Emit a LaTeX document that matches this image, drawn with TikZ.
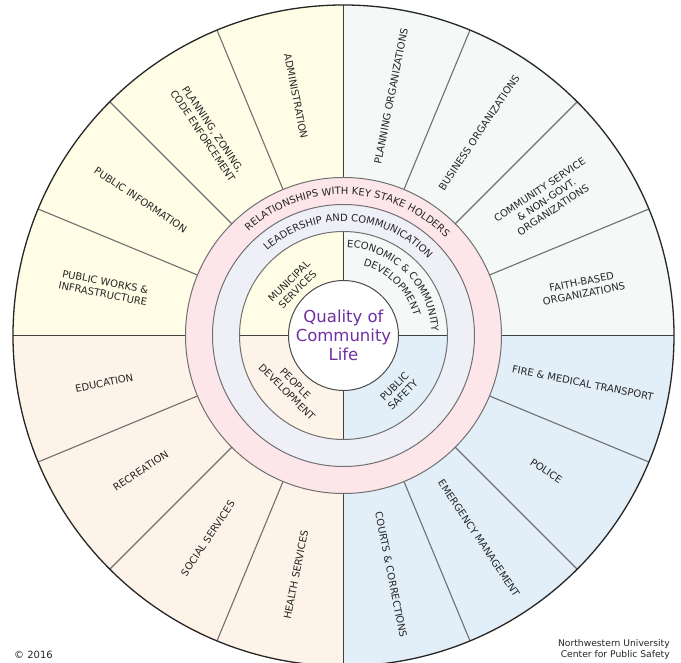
\documentclass[tikz,border=0pt]{standalone}
\usepackage{fontspec}
\setmainfont{DejaVu Sans}
\usepackage{xcolor}
\usepackage{tikz}
\usetikzlibrary{decorations.text}

\definecolor{mscol}{HTML}{FFFDE6}
\definecolor{edcol}{HTML}{F4F8F7}
\definecolor{pscol}{HTML}{E2EEF8}
\definecolor{pdcol}{HTML}{FDF3E8}
\definecolor{stakecol}{HTML}{FDE6E9}
\definecolor{leadcol}{HTML}{EFEFF7}
\definecolor{qclcol}{HTML}{7030A0}
\definecolor{rulecol}{HTML}{707070}

\begin{document}
\begin{tikzpicture}[x=1pt,y=1pt,
        ring/.style={draw=rulecol, line width=1pt},
        spoke/.style={draw=rulecol, line width=1.1pt},
        quad/.style={draw=black!75, line width=1.6pt},
        lbl/.style={font=\fontsize{10}{12}\selectfont, text=black!85, align=center, inner sep=1pt},
        ringtext/.style={decorate, decoration={text along path, text align=center, text color=black!85}}]
        \useasboundingbox (-343.5,-327.5) rectangle (337.5,335.5);
        \clip (-343.5,-327.5) rectangle (337.5,335.5);

        \foreach \a/\c in {0/edcol,90/mscol,180/pdcol,270/pscol}
            \fill[\c] (0,0) -- (\a:330.5) arc[start angle=\a, delta angle=90, radius=330.5] -- cycle;
        \fill[stakecol] (0,0) circle[radius=158];
        \fill[leadcol] (0,0) circle[radius=131];
        \foreach \a/\c in {0/edcol,90/mscol,180/pdcol,270/pscol}
            \fill[\c] (0,0) -- (\a:104) arc[start angle=\a, delta angle=90, radius=104] -- cycle;
        \fill[white] (0,0) circle[radius=55];

        \foreach \a in {22.5,45,67.5,112.5,135,157.5,202.5,225,247.5,292.5,315,337.5}
            \draw[spoke] (\a:158) -- (\a:330.5);
        \foreach \a in {0,90,180,270} {
            \draw[quad] (\a:158) -- (\a:330.5);
            \draw[quad] (\a:55) -- (\a:104);
        }
        \draw[ring] (0,0) circle[radius=158];
        \draw[ring] (0,0) circle[radius=131];
        \draw[ring] (0,0) circle[radius=104];
        \draw[ring, draw=black!70] (0,0) circle[radius=55];
        \draw[black!85, line width=1.3pt] (0,0) circle[radius=330.5];

        \path[ringtext, decoration={text={|\fontsize{10}{12}\selectfont|RELATIONSHIPS WITH KEY STAKE HOLDERS}}]
            (178:141) arc[start angle=178, end angle=-2, radius=141];
        \path[ringtext, decoration={text={|\fontsize{10}{12}\selectfont|LEADERSHIP AND COMMUNICATION}}]
            (177:114) arc[start angle=177, end angle=-3, radius=114];
        \path[ringtext, decoration={text={|\fontsize{10}{12}\selectfont|ECONOMIC {\&} COMMUNITY}}]
            (105:88) arc[start angle=105, end angle=-15, radius=88];
        \path[ringtext, decoration={text={|\fontsize{10}{12}\selectfont|DEVELOPMENT}}]
            (105:73) arc[start angle=105, end angle=-15, radius=73];

        \node[lbl, rotate=45] (muni) at (135:71) {MUNICIPAL\\SERVICES};
        \node[lbl, rotate=-45] (people) at (225:74) {PEOPLE\\DEVELOPMENT};
        \node[lbl, rotate=45] (safety) at (-45:78) {PUBLIC\\SAFETY};
        \node[font=\fontsize{16.5}{19}\selectfont, text=qclcol, align=center] (qcl) at (0,0) {Quality of\\Community\\Life};

        \foreach \a/\t [count=\i] in {11.25/{FAITH-BASED\\ORGANIZATIONS},
                33.75/{COMMUNITY SERVICE\\\& NON-GOVT.\\ORGANIZATIONS},
                56.25/BUSINESS ORGANIZATIONS, 78.75/PLANNING ORGANIZATIONS,
                -11.25/FIRE \& MEDICAL TRANSPORT, -33.75/POLICE,
                -56.25/EMERGENCY MANAGEMENT, -78.75/COURTS \& CORRECTIONS}
            \node[lbl, rotate=\a] (east\i) at (\a:244) {\t};
        \foreach \a/\t [count=\i] in {101.25/ADMINISTRATION,
                123.75/{PLANNING, ZONING,\\CODE ENFORCEMENT},
                146.25/PUBLIC INFORMATION, 168.75/{PUBLIC WORKS \&\\INFRASTRUCTURE},
                191.25/EDUCATION, 213.75/RECREATION,
                236.25/SOCIAL SERVICES, 258.75/HEALTH SERVICES}
            \node[lbl, rotate=\a-180] (west\i) at (\a:244) {\t};

        \node[anchor=base west, inner sep=0, text=black!85, font=\fontsize{10}{12}\selectfont] (copy) at (-329.5,-323.5) {© 2016};
        \node[anchor=south east, inner sep=0, align=right, text=black!85, font=\fontsize{9.2}{10.5}\selectfont] (nwu) at (326.5,-324) {Northwestern University\\Center for Public Safety};
    \end{tikzpicture}
\end{document}
